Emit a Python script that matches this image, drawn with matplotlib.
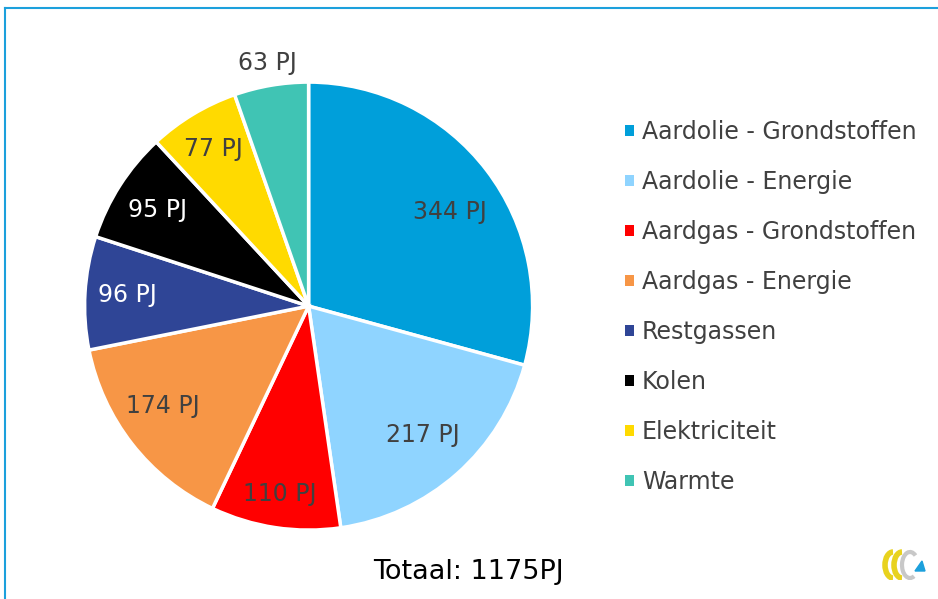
import matplotlib.pyplot as plt
import numpy as np
from matplotlib.lines import Line2D
from matplotlib.patches import Patch, Arc, Polygon

# data
categories = ["Aardolie - Grondstoffen", "Aardolie - Energie", "Aardgas - Grondstoffen",
              "Aardgas - Energie", "Restgassen", "Kolen", "Elektriciteit", "Warmte"]
values = [344, 217, 110, 174, 96, 95, 77, 63]
colors = ["#009FDA", "#8FD4FF", "#FF0000", "#F79646", "#2F4596", "#000000", "#FFDA00", "#40C4B4"]
label_colors = ["#404040", "#404040", "#404040", "#404040", "white", "white", "#404040", "#404040"]
label_dist = [0.76, 0.77, 0.85, 0.79, 0.81, 0.80, 0.82, 1.10]
label_shift = [-3.6, 0, 0, -3.5, 0, 0, 0, 0]   # degrees, nudges the label off the mid angle
total_text = "Totaal: 1175PJ"

plt.rcParams['font.family'] = ['DejaVu Sans']

fig = plt.figure(figsize=(9.38, 5.99), dpi=100)
ax = fig.add_axes([0.329 - 0.2388, 0.489 - 0.374, 0.4776, 0.748])

wedges, _ = ax.pie(values, colors=colors, startangle=90, counterclock=False,
                   wedgeprops=dict(edgecolor="white", linewidth=2.5))
ax.set_xlim(-1, 1)
ax.set_ylim(-1, 1)
ax.set_aspect("equal")
ax.axis("off")

# value labels placed along each wedge's middle angle
for w, v, c, d, s in zip(wedges, values, label_colors, label_dist, label_shift):
    ang = np.deg2rad((w.theta1 + w.theta2) / 2 + s)
    ax.text(d * np.cos(ang), d * np.sin(ang), f"{v} PJ", ha="center", va="center",
            fontsize=17, color=c, clip_on=False)

# legend squares without the white wedge edge
handles = [Patch(facecolor=c, edgecolor="none") for c in colors]
leg = fig.legend(handles, categories, loc="upper left", bbox_to_anchor=(0.6565, 0.815),
                 frameon=False, fontsize=17, labelcolor="#404040", borderaxespad=0,
                 handlelength=0.36, handleheight=0.36, handletextpad=0.35, labelspacing=1.1)

fig.text(0.499, 0.045, total_text, ha="center", va="center", fontsize=19.5, color="black")

# frame lines (left and top)
fig.add_artist(Line2D([5 / 938, 5 / 938], [0, 1 - 8 / 599], color="#1CA0DC", lw=1.5))
fig.add_artist(Line2D([5 / 938, 1], [1 - 8 / 599, 1 - 8 / 599], color="#1CA0DC", lw=1.5))

# small logo bottom right
lax = fig.add_axes([880 / 938, 1 - 580 / 599, 48 / 938, 32 / 599])
lax.set_xlim(0, 48)
lax.set_ylim(0, 32)
lax.axis("off")
lax.add_patch(Arc((13, 15), 16, 26, theta1=90, theta2=270, color="#E8D21E", lw=4))
lax.add_patch(Arc((22, 15), 16, 26, theta1=90, theta2=270, color="#E8D21E", lw=4))
lax.add_patch(Arc((30, 15), 16, 26, theta1=60, theta2=290, color="#C8C8C8", lw=3))
lax.add_patch(Polygon([[35, 9], [45, 9], [42, 19]], closed=True, color="#1CA0DC"))

fig.savefig("out.png", dpi=100)
